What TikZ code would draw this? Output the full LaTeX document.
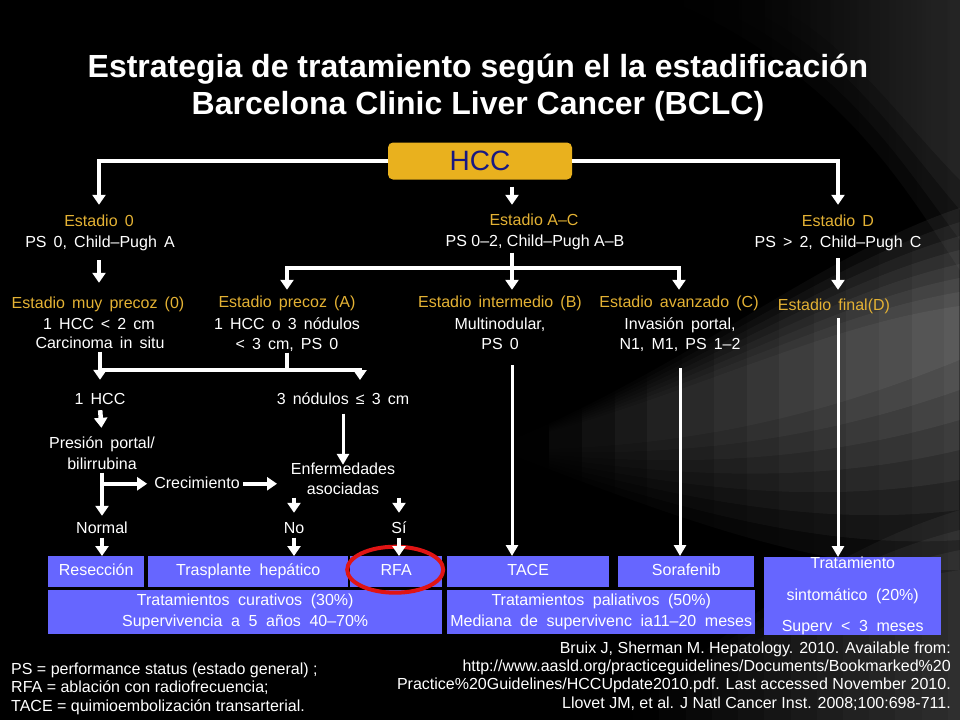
\documentclass[tikz,border=0pt]{standalone}
\usepackage{fontspec}
\setmainfont{Liberation Sans}
\newfontfamily\bodyfont{Liberation Sans}[WordSpace=1.6]
\newcommand\boxtextfont{\fontsize{16}{21}\selectfont\spaceskip 8.6pt\relax}
\newcommand\tratfont{\fontsize{16}{31.5}\selectfont\spaceskip 8.6pt\relax}
\usetikzlibrary{arrows.meta,fadings,calc}
\tikzfading[name=fadeinright, left color=transparent!100, right color=transparent!0]
\definecolor{gold}{RGB}{228,178,52}
\definecolor{hccgold}{RGB}{233,177,30}
\definecolor{navy}{RGB}{24,24,130}
\definecolor{boxblue}{RGB}{102,102,255}
\definecolor{ringred}{RGB}{225,20,20}
\begin{document}
\begin{tikzpicture}[x=1pt,y=-1pt,
  txt/.style={text=white,font=\bodyfont\fontsize{16}{19}\selectfont,inner sep=0pt,anchor=base,text height=12pt,text depth=3.5pt},
  ntxt/.style={text=white,font=\fontsize{16}{19}\selectfont,inner sep=0pt,anchor=base,text height=12pt,text depth=3.5pt},
  stg/.style={txt,text=gold},
  nstg/.style={ntxt,text=gold},
  arr/.style={draw=white,line width=4.5pt,-{Triangle[width=13pt,length=10pt]}},
  thinarr/.style={draw=white,line width=3pt,-{Triangle[width=12pt,length=11pt]}},
  wline/.style={draw=white,line width=4pt},
  tbox/.style={fill=boxblue,text=white,font=\boxtextfont,inner sep=0pt,anchor=north west,align=center},
  sbox/.style={fill=boxblue,text=white,font=\boxtextfont,inner sep=0pt,anchor=north west,text height=12pt,text depth=3.5pt,minimum height=31pt},
  note/.style={text=white,font=\fontsize{16}{19}\selectfont,inner sep=0pt,anchor=base west},
  ref/.style={text=white,font=\fontsize{16}{19}\selectfont,inner sep=0pt,anchor=base east},
]
% background
\fill[black] (0,0) rectangle (960,720);
\foreach \i in {1,...,8}{
  \fill[white, opacity=0.055, path fading=fadeinright] (500,445) .. controls (680,{405-4*\i}) and (820,{335-10*\i}) .. (960,{320-14*\i}) -- (960,{330+30*\i}) .. controls (820,{395+22*\i}) and (680,{440+10*\i}) .. (500,450) -- cycle;
}
\foreach \i in {1,...,4}{
  \fill[white, opacity=0.05, path fading=fadeinright] (620,720) .. controls (760,{640-10*\i}) and (860,{600-15*\i}) .. (960,{590-20*\i}) -- (960,720) -- cycle;
}
\foreach \i in {1,...,4}{
  \fill[white, opacity=0.04, path fading=fadeinright] ({640+30*\i},0) -- (960,0) -- (960,{300-30*\i}) .. controls (900,{200-20*\i}) and (840,{90-15*\i}) .. ({640+30*\i},0) -- cycle;
}
\useasboundingbox (0,0) rectangle (960,720);

% title
\node[text=white,font=\fontsize{32}{37}\bfseries\selectfont,inner sep=0pt,anchor=base] (t1) at (478,77) {Estrategia de tratamiento según el la estadificación};
\node[text=white,font=\fontsize{32}{37}\bfseries\selectfont,inner sep=0pt,anchor=base] (t2) at (478,114) {Barcelona Clinic Liver Cancer (BCLC)};

% HCC
\node[fill=hccgold,rounded corners=5pt,minimum width=184pt,minimum height=37pt,inner sep=0pt,text=navy,font=\fontsize{28}{30}\selectfont] (hcc) at (480,161) {HCC};

% stage texts
\node[stg] (e0) at (99,226) {Estadio 0};
\node[txt] (ps0) at (100,247) {PS 0, Child–Pugh A};
\node[nstg] (eAC) at (534,225) {Estadio A–C};
\node[ntxt] (psAC) at (535,246) {PS 0–2, Child–Pugh A–B};
\node[stg] (eD) at (838,226) {Estadio D};
\node[txt] (psD) at (838,247) {PS > 2, Child–Pugh C};

\node[stg] (muy) at (98,308) {Estadio muy precoz (0)};
\node[txt] (muy2) at (99,329) {1 HCC < 2 cm};
\node[txt] (muy3) at (100,348) {Carcinoma in situ};
\node[stg] (prec) at (287,307) {Estadio precoz (A)};
\node[txt] (prec2) at (287,329) {1 HCC o 3 nódulos};
\node[txt] (prec3) at (287,349) {< 3 cm, PS 0};
\node[stg] (inter) at (500,307) {Estadio intermedio (B)};
\node[txt] (inter2) at (500,329) {Multinodular,};
\node[txt] (inter3) at (500,349) {PS 0};
\node[stg] (avz) at (679,307) {Estadio avanzado (C)};
\node[txt] (avz2) at (680,329) {Invasión portal,};
\node[txt] (avz3) at (680,349) {N1, M1, PS 1–2};
\node[stg] (final) at (834,310) {Estadio final(D)};

\node[txt] (h1) at (100,404) {1 HCC};
\node[txt] (n3) at (343,404) {3 nódulos ≤ 3 cm};
\node[txt] (pres) at (102,448) {Presión portal/};
\node[txt] (bili) at (102,469) {bilirrubina};
\node[txt] (crec) at (197,488) {Crecimiento};
\node[txt] (enf) at (343,474) {Enfermedades};
\node[txt] (aso) at (343,494) {asociadas};
\node[txt] (normal) at (102,533) {Normal};
\node[txt] (no) at (294,533) {No};
\node[txt] (si) at (399,533) {Sí};

% treatment boxes
\node[sbox,minimum width=96pt] (res) at (48,556) {Resección};
\node[sbox,minimum width=200pt] (tras) at (148,556) {Trasplante hepático};
\node[sbox,minimum width=92pt] (rfa) at (350,556) {RFA};
\node[sbox,minimum width=162pt] (tace) at (447,556) {TACE};
\node[sbox,minimum width=136pt] (sor) at (618,556) {Sorafenib};
\node[tbox,minimum width=177pt,minimum height=76pt,font=\tratfont] (trat) at (764,557) {Tratamiento\\sintomático (20\%)\\Superv < 3 meses};
\node[tbox,minimum width=394pt,minimum height=44pt] (cur) at (48,590) {Tratamientos curativos (30\%)\\Supervivencia a 5 años 40–70\%};
\node[tbox,minimum width=308pt,minimum height=44pt] (pal) at (447,590) {Tratamientos paliativos (50\%)\\Mediana de supervivenc ia11–20 meses};

% ring around RFA
\draw[ringred,line width=4pt] (rfa.center) ++(-1,-2) ellipse [x radius=48pt, y radius=23pt];

% connectors
\coordinate (jAC) at (512,268);
\coordinate (jA) at (287,370);
\coordinate (n3tip) at (360,380);
\coordinate (enfW) at (277,483.75);

\draw[arr, shorten >=9pt, line width=4pt] (hcc.west) -| (e0.north);
\draw[arr, shorten >=9pt, line width=4pt] (hcc.east) -| (eD.north);
\draw[arr, shorten <=7pt, shorten >=8pt] (hcc.south -| jAC) -- (eAC.north -| jAC);
\draw[arr, shorten <=9.5pt, shorten >=13pt] (e0.south |- ps0.south) -- (e0.south |- muy.north);
\draw[arr, shorten <=7.5pt, shorten >=8pt] (psD.south) -- (psD.south |- final.north);
\draw[arr, shorten <=3pt, shorten >=5pt] (psAC.south -| jAC) -- (inter.north -| jAC);
\draw[arr, line width=4pt, shorten >=5pt] (jAC) -| (prec.north);
\draw[arr, line width=4pt, shorten >=5pt] (jAC) -| (avz.north);
\draw[arr, shorten >=12pt] (muy3.south) -- (h1.north);
\draw[wline] (prec3.south) -- (jA);
\draw[arr, line width=4pt] (muy3.south |- jA) -| (n3tip);
\draw[arr, shorten <=2.5pt, shorten >=8pt] (h1.south) -- (pres.north);
\draw[thinarr, shorten <=6pt] (n3.south) -- ([yshift=-3pt]enf.north);
\draw[arr, shorten >=5pt] (bili.south) -- (normal.north);
\draw[arr, shorten >=7pt] (bili.south |- crec.west) -- (crec.west);
\draw[arr, shorten <=3pt] (crec.east) -- (enfW);
\draw[arr, shorten >=8pt] (aso.south -| no.north) -- (no.north);
\draw[arr, shorten >=8pt] (aso.south -| si.north) -- (si.north);
\draw[arr, shorten <=1pt] (normal.south) -- (normal.south |- res.north);
\draw[arr, shorten <=1pt] (no.south) -- (no.south |- tras.north);
\draw[arr, shorten <=1pt] (si.south) -- (si.south |- rfa.north);
\draw[thinarr, shorten <=12.5pt] (inter3.south -| jAC) -- (tace.north -| jAC);
\draw[thinarr, shorten <=15.5pt] (avz3.south) -- (avz3.south |- sor.north);
\draw[thinarr, shorten <=4.5pt] (psD.south |- final.south) -- (psD.south |- trat.north);

% notes
\node[note] (f1) at (11,674) {PS = performance status (estado general) ;};
\node[note] (f2) at (11,692.5) {RFA = ablación con radiofrecuencia;};
\node[note] (f3) at (11,711) {TACE = quimioembolización transarterial.};
\node[ref] (r1) at (951,653) {Bruix J, Sherman M. Hepatology. 2010. Available from:};
\node[ref] (r2) at (951,671) {http://www.aasld.org/practiceguidelines/Documents/Bookmarked\%20};
\node[ref] (r3) at (951,689) {Practice\%20Guidelines/HCCUpdate2010.pdf. Last accessed November 2010.};
\node[ref] (r4) at (951,708) {Llovet JM, et al. J Natl Cancer Inst. 2008;100:698-711.};
\end{tikzpicture}
\end{document}
